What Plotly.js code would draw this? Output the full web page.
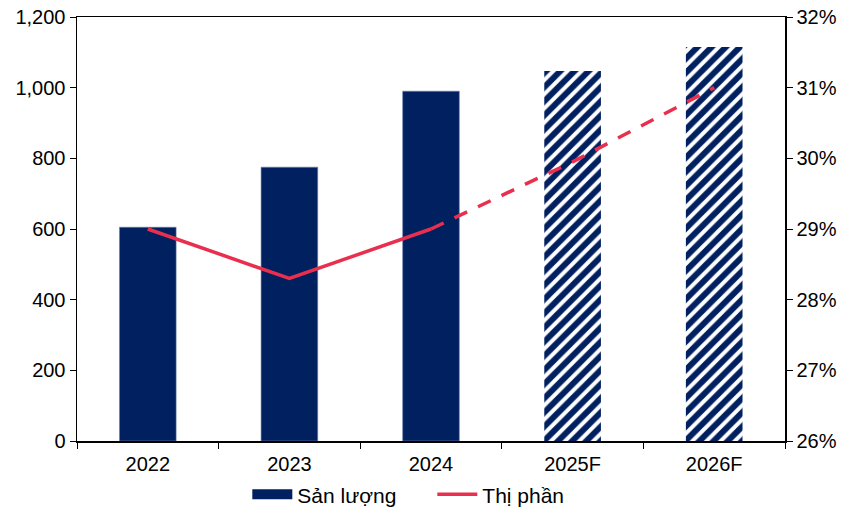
<!DOCTYPE html>
<html>
<head>
<meta charset="utf-8">
<script src="https://cdn.plot.ly/plotly-3.0.1.min.js"></script>
<style>html,body{margin:0;padding:0;background:#fff;}#chart{width:847px;height:510px;}</style>
</head>
<body>
<div id="chart"></div>
<script>
const categories = ["2022", "2023", "2024", "2025F", "2026F"];
const actualYears = ["2022", "2023", "2024"];
const actualOutput = [605, 775, 990];
const forecastYears = ["2025F", "2026F"];
const forecastOutput = [1047, 1115];
const shareActualYears = ["2022", "2023", "2024"];
const shareActual = [29.0, 28.3, 29.0];
const shareForecastYears = ["2024", "2025F", "2026F"];
const shareForecast = [29.0, 29.95, 31.0];
const yTickVals = [0, 200, 400, 600, 800, 1000, 1200];
const yTickText = ["0", "200", "400", "600", "800", "1,000", "1,200"];
const y2TickVals = [26, 27, 28, 29, 30, 31, 32];
const y2TickText = ["26%", "27%", "28%", "29%", "30%", "31%", "32%"];

const navy = "#002060";
const red = "#E8304E";
const fam = "Liberation Sans, Arial, sans-serif";

const traces = [
  {type: "bar", name: "Sản lượng", x: actualYears, y: actualOutput, width: 0.4, showlegend: false,
   marker: {color: navy, line: {width: 0.6, color: "#6b7fa8"}}},
  {type: "bar", name: "Sản lượng dự báo", x: forecastYears, y: forecastOutput, width: 0.4, showlegend: false,
   marker: {color: navy, line: {width: 0},
     pattern: {shape: "/", fillmode: "replace", bgcolor: "#ffffff", fgcolor: navy, size: 10, solidity: 0.6}}},
  {type: "scatter", mode: "lines", name: "Sản lượng", x: [null], y: [null], showlegend: true,
   line: {color: navy, width: 12}},
  {type: "scatter", mode: "lines", name: "Thị phần", x: shareActualYears, y: shareActual, yaxis: "y2",
   line: {color: red, width: 3.5}},
  {type: "scatter", mode: "lines", name: "Thị phần dự báo", x: shareForecastYears, y: shareForecast, yaxis: "y2",
   showlegend: false, line: {color: red, width: 3.5, dash: "14px,12px"}}
];

const layout = {
  width: 847, height: 510,
  margin: {l: 77, r: 62, t: 17, b: 69},
  paper_bgcolor: "#fff", plot_bgcolor: "#fff",
  font: {family: fam, size: 20, color: "#000"},
  barmode: "overlay",
  showlegend: true,
  legend: {orientation: "h", xref: "container", yref: "container", x: 0.292, xanchor: "left",
    y: 0.03, yanchor: "middle", font: {family: fam, size: 21, color: "#000"},
    traceorder: "normal", itemwidth: 40, entrywidth: 130, entrywidthmode: "pixels"},
  xaxis: {type: "category", categoryorder: "array", categoryarray: categories,
    showline: true, linecolor: "#000", linewidth: 1.5, mirror: true,
    ticks: "outside", ticklen: 6, tickcolor: "#000", tickson: "boundaries", ticklabelstandoff: 4,
    showgrid: false, tickfont: {family: fam, size: 20, color: "#000"}, range: [-0.5, 4.5], automargin: false},
  yaxis: {range: [0, 1200], tickmode: "array", tickvals: yTickVals, ticktext: yTickText,
    showline: true, linecolor: "#000", linewidth: 1.5,
    ticks: "outside", ticklen: 6, tickcolor: "#000", showgrid: false, zeroline: false,
    tickfont: {family: fam, size: 20, color: "#000"}, automargin: false},
  yaxis2: {overlaying: "y", side: "right", range: [26, 32], tickmode: "array", tickvals: y2TickVals,
    ticktext: y2TickText, showline: true, linecolor: "#000", linewidth: 1.5,
    ticks: "outside", ticklen: 6, tickcolor: "#000", showgrid: false, zeroline: false,
    tickfont: {family: fam, size: 20, color: "#000"}, automargin: false}
};

Plotly.newPlot("chart", traces, layout, {displayModeBar: false, staticPlot: true});
</script>
</body>
</html>
